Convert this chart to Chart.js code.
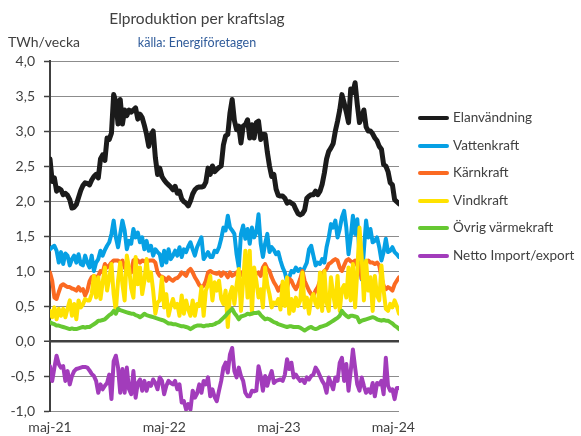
<!DOCTYPE html>
<html>
<head>
<meta charset="utf-8">
<script src="https://cdn.jsdelivr.net/npm/chart.js@4.4.1/dist/chart.umd.min.js"></script>
<style>
  html, body { margin: 0; padding: 0; background: #fff; }
  #wrap { position: relative; width: 581px; height: 436px; font-family: Lato, "Open Sans", sans-serif; color: #404040; }
  #wrap canvas { position: absolute; left: 0; top: 0; }
  .txt { position: absolute; white-space: nowrap; }
  #title { left: 0; width: 394px; top: 9px; text-align: center; font-size: 15.5px; }
  #source { left: 0; width: 394px; top: 35px; text-align: center; font-size: 12.5px; color: #2f5b9a; }
  #unit { left: 8px; top: 33px; font-size: 14px; }
  .leg { position: absolute; left: 418px; height: 20px; }
  .leg i { position: absolute; left: 0; top: 8px; width: 31px; height: 4px; border-radius: 2px; }
  .leg span { position: absolute; left: 35px; top: 1px; font-size: 13.5px; white-space: nowrap; }
</style>
</head>
<body>
<div id="wrap">
  <canvas id="chart" width="581" height="436"></canvas>
  <div class="txt" id="title">Elproduktion per kraftslag</div>
  <div class="txt" id="source">källa: Energiföretagen</div>
  <div class="txt" id="unit">TWh/vecka</div>
  <div id="legend"></div>
</div>
<script>
// ── DATA (TWh per week, weeks counted from early May 2021) ─────
const seriesNames = ['Elanvändning', 'Vattenkraft', 'Kärnkraft', 'Vindkraft', 'Övrig värmekraft', 'Netto Import/export'];
const seriesColors = ['#1b1b1b', '#06a0e4', '#fb6a22', '#ffe200', '#66c832', '#a23cbb'];

const tickLabels = ['maj-21', 'maj-22', 'maj-23', 'maj-24'];
const tickWeeks = [0, 52.1, 104.3, 156.4];

const elanvandning = [
  2.6, 2.28, 2.33, 2.14, 2.18, 2.16, 2.09, 2.11, 2.08, 2.02,
  1.90, 1.91, 1.95, 2.05, 2.15, 2.22, 2.26, 2.25, 2.23, 2.30,
  2.35, 2.38, 2.33, 2.6, 2.66, 2.58, 2.9, 2.88, 2.97, 3.52,
  3.42, 3.1, 3.45, 3.1, 3.3, 3.22, 3.3, 3.27, 3.3, 3.33,
  3.17, 3.24, 3.19, 3.08, 2.95, 2.78, 2.95, 3.0, 2.62, 2.38,
  2.47, 2.35, 2.3, 2.26, 2.23, 2.20, 2.16, 2.21, 2.11, 2.14,
  2.03, 1.99, 1.97, 1.93, 2.0, 2.10, 2.16, 2.19, 2.2, 2.2,
  2.21, 2.27, 2.47, 2.38, 2.50, 2.42, 2.45, 2.48, 2.5, 2.8,
  2.93, 2.95, 3.26, 3.45, 3.15, 3.02, 3.07, 2.83, 3.07, 3.09,
  3.16, 2.90, 3.09, 2.90, 3.12, 3.14, 2.88, 2.95, 2.95, 2.7,
  2.50, 2.35, 2.38, 2.17, 2.08, 2.07, 2.07, 2.04, 1.97, 1.99,
  1.97, 1.95, 1.88, 1.82, 1.80, 1.82, 1.87, 2.04, 2.07, 2.09,
  2.09, 2.14, 2.09, 2.14, 2.24, 2.40, 2.6, 2.71, 2.76, 2.82,
  3.0, 3.14, 3.3, 3.52, 3.40, 3.27, 3.12, 3.6, 3.55, 3.69,
  3.38, 3.12, 3.2, 3.3, 3.06, 3.0, 3.0, 2.96, 2.9, 2.86,
  2.78, 2.74, 2.52, 2.50, 2.42, 2.26, 2.23, 2.02, 1.99, 1.96
];

const vattenkraft = [
  1.31, 1.34, 1.36, 1.29, 1.12, 1.27, 1.10, 1.25, 1.22, 1.08,
  1.17, 1.22, 1.12, 1.24, 1.10, 1.08, 1.22, 1.12, 1.05, 1.22,
  1.0, 1.12, 1.17, 1.29, 1.22, 1.3, 1.36, 1.41, 1.53, 1.72,
  1.48, 1.34, 1.53, 1.72, 1.58, 1.31, 1.43, 1.39, 1.60, 1.48,
  1.55, 1.41, 1.48, 1.31, 1.43, 1.29, 1.36, 1.22, 1.31, 1.27,
  1.24, 1.08, 1.29, 1.12, 1.31, 1.17, 1.22, 1.29, 1.22, 1.34,
  1.20, 1.31, 1.27, 1.35, 1.41, 1.31, 1.22, 1.34, 1.41, 1.48,
  1.17, 1.22, 1.27, 1.2, 1.20, 1.29, 1.27, 1.34, 1.46, 1.62,
  1.58, 1.79, 1.62, 1.58, 1.53, 1.24, 1.05, 1.53, 1.65, 1.46,
  1.60, 1.39, 1.62, 1.48, 1.55, 1.81, 1.39, 1.20, 1.39, 1.53,
  1.27, 1.34, 1.30, 1.24, 1.27, 1.15, 1.05, 0.98, 0.85, 0.91,
  1.0, 0.98, 1.05, 1.0, 1.03, 0.98, 1.05, 1.12, 1.31, 1.36,
  1.22, 1.08, 1.12, 1.10, 1.17, 1.12, 1.34, 1.48, 1.67, 1.62,
  1.72, 1.48, 1.60, 1.77, 1.86, 1.62, 1.24, 1.48, 1.79, 1.53,
  1.74, 1.24, 0.88, 1.29, 1.72, 1.48, 1.60, 1.41, 1.43, 1.48,
  1.34, 1.15, 1.27, 1.46, 1.27, 1.29, 1.34, 1.27, 1.24, 1.20
];

const karnkraft = [
  0.98, 0.86, 0.62, 0.6, 0.7, 0.79, 0.81, 0.79, 0.77, 0.77,
  0.75, 0.74, 0.72, 0.77, 0.72, 0.74, 0.65, 0.72, 0.85, 0.91,
  0.93, 0.91, 0.93, 1.0, 0.98, 1.10, 1.05, 1.08, 1.12, 1.15,
  1.15, 1.15, 1.12, 1.15, 1.05, 1.0, 1.05, 0.98, 1.15, 1.17,
  1.15, 1.12, 1.15, 1.14, 1.12, 1.15, 1.15, 1.15, 1.12, 0.98,
  0.93, 0.92, 0.9, 0.86, 0.91, 0.88, 0.86, 0.89, 0.9, 0.93,
  0.98, 0.96, 0.93, 1.0, 1.03, 0.98, 0.91, 0.86, 0.8, 0.77,
  0.79, 0.86, 0.98, 1.0, 0.98, 0.97, 0.96, 0.98, 0.93, 0.98,
  0.96, 0.91, 0.98, 0.93, 0.95, 0.98, 0.96, 0.98, 0.93, 0.96,
  0.93, 0.95, 0.96, 0.98, 0.96, 0.98, 0.93, 1.05, 1.10, 1.03,
  1.0, 0.91, 0.84, 0.79, 0.72, 0.77, 0.81, 0.78, 0.76, 0.89,
  0.86, 0.79, 0.74, 0.8, 0.89, 1.0, 0.86, 0.79, 0.72, 0.67,
  0.65, 0.72, 0.77, 0.86, 0.96, 1.0, 1.03, 1.10, 1.12, 1.15,
  1.17, 1.15, 1.05, 1.0, 1.08, 1.15, 1.17, 1.14, 1.12, 1.15,
  1.08, 1.10, 0.89, 1.0, 1.12, 1.15, 1.12, 1.12, 1.10, 1.12,
  1.08, 0.91, 0.79, 0.74, 0.77, 0.75, 0.72, 0.81, 0.86, 0.91
];

const vindkraft = [
  0.43, 0.34, 0.48, 0.31, 0.46, 0.36, 0.46, 0.34, 0.46, 0.58,
  0.36, 0.53, 0.31, 0.58, 0.48, 0.52, 0.60, 0.58, 0.58, 0.67,
  0.93, 0.62, 0.91, 0.60, 0.84, 1.05, 0.72, 0.9, 1.10, 0.67,
  0.43, 0.86, 1.12, 0.81, 0.58, 1.22, 1.05, 0.75, 0.62, 1.20,
  0.81, 1.05, 0.67, 0.86, 1.17, 0.86, 0.98, 0.72, 0.39, 0.55,
  0.58, 0.91, 0.48, 0.67, 0.36, 0.5, 0.60, 0.48, 0.53, 0.36,
  0.65, 0.39, 0.58, 0.45, 0.36, 0.58, 0.36, 0.53, 0.50, 0.77,
  0.36, 0.72, 0.8, 0.93, 0.58, 0.84, 0.72, 0.86, 0.6, 0.53,
  0.72, 0.20, 0.67, 0.77, 0.53, 0.8, 1.03, 0.43, 0.86, 1.29,
  0.62, 1.29, 0.39, 1.05, 0.86, 0.62, 0.74, 0.48, 1.05, 0.8,
  0.67, 0.48, 0.55, 0.53, 0.6, 0.45, 0.85, 0.5, 0.91, 0.39,
  0.60, 0.43, 0.62, 0.5, 0.58, 0.98, 0.48, 0.62, 0.39, 0.6,
  0.67, 0.53, 0.48, 0.98, 0.43, 1.0, 0.55, 0.43, 0.91, 0.67,
  0.48, 0.93, 0.43, 0.74, 0.8, 0.62, 1.05, 0.58, 1.10, 0.48,
  1.0, 1.62, 1.20, 0.58, 1.15, 0.72, 0.91, 0.43, 0.93, 0.65,
  0.58, 1.08, 0.72, 0.46, 0.43, 0.53, 0.48, 0.58, 0.5, 0.39
];

const ovrigVarmekraft = [
  0.27, 0.25, 0.24, 0.22, 0.22, 0.21, 0.20, 0.19, 0.18, 0.17,
  0.18, 0.17, 0.17, 0.18, 0.19, 0.20, 0.19, 0.20, 0.20, 0.22,
  0.24, 0.26, 0.29, 0.29, 0.30, 0.31, 0.34, 0.37, 0.39, 0.43,
  0.39, 0.46, 0.44, 0.43, 0.42, 0.41, 0.40, 0.39, 0.39, 0.37,
  0.36, 0.34, 0.36, 0.39, 0.37, 0.36, 0.35, 0.34, 0.33, 0.32,
  0.31, 0.30, 0.29, 0.27, 0.25, 0.25, 0.24, 0.24, 0.23, 0.22,
  0.21, 0.21, 0.20, 0.19, 0.17, 0.19, 0.21, 0.22, 0.22, 0.22,
  0.21, 0.22, 0.22, 0.23, 0.23, 0.24, 0.26, 0.27, 0.30, 0.33,
  0.36, 0.40, 0.43, 0.46, 0.40, 0.36, 0.31, 0.35, 0.36, 0.37,
  0.39, 0.38, 0.39, 0.40, 0.40, 0.41, 0.37, 0.34, 0.31, 0.32,
  0.31, 0.29, 0.27, 0.26, 0.24, 0.23, 0.22, 0.21, 0.20, 0.21,
  0.21, 0.20, 0.20, 0.20, 0.19, 0.17, 0.15, 0.17, 0.19, 0.20,
  0.18, 0.17, 0.18, 0.20, 0.21, 0.22, 0.23, 0.25, 0.27, 0.29,
  0.31, 0.33, 0.36, 0.43, 0.39, 0.36, 0.34, 0.36, 0.36, 0.35,
  0.34, 0.27, 0.29, 0.30, 0.31, 0.32, 0.33, 0.34, 0.33, 0.31,
  0.30, 0.29, 0.30, 0.29, 0.29, 0.27, 0.25, 0.22, 0.20, 0.17
];

const nettoImportExport = [
  -0.36, -0.57, -0.38, -0.21, -0.33, -0.38, -0.36, -0.57, -0.43, -0.62,
  -0.5, -0.43, -0.40, -0.39, -0.38, -0.37, -0.37, -0.38, -0.42, -0.47,
  -0.5, -0.57, -0.74, -0.62, -0.69, -0.64, -0.6, -0.48, -0.83, -0.29,
  -0.21, -0.38, -0.74, -0.40, -0.74, -0.38, -0.69, -0.76, -0.43, -0.81,
  -0.6, -0.55, -0.71, -0.57, -0.71, -0.6, -0.64, -0.55, -0.6, -0.69,
  -0.52, -0.57, -0.76, -0.64, -0.57, -0.6, -0.62, -0.57, -0.69, -0.62,
  -0.88, -0.86, -0.98, -0.9, -0.98, -0.71, -0.81, -0.75, -0.62, -0.74,
  -0.57, -0.62, -0.52, -0.79, -0.69, -0.8, -0.86, -0.71, -0.57, -0.38,
  -0.31, -0.45, -0.19, -0.10, -0.43, -0.52, -0.38, -0.5, -0.57, -0.74,
  -0.79, -0.79, -0.71, -0.72, -0.71, -0.36, -0.5, -0.71, -0.5, -0.64,
  -0.52, -0.43, -0.6, -0.57, -0.56, -0.55, -0.57, -0.48, -0.26, -0.40,
  -0.31, -0.52, -0.48, -0.53, -0.57, -0.55, -0.6, -0.52, -0.55, -0.5,
  -0.48, -0.38, -0.43, -0.5, -0.57, -0.62, -0.74, -0.52, -0.6, -0.69,
  -0.52, -0.57, -0.31, -0.24, -0.57, -0.33, -0.71, -0.43, -0.12, -0.38,
  -0.62, -0.71, -0.52, -0.64, -0.74, -0.69, -0.74, -0.6, -0.79, -0.6,
  -0.62, -0.57, -0.76, -0.24, -0.64, -0.71, -0.69, -0.83, -0.67, -0.67
];

const seriesValues = [elanvandning, vattenkraft, karnkraft, vindkraft, ovrigVarmekraft, nettoImportExport];

// ── CHART ──────────────────────────────────────────────────────
const GRID = '#8c8c8c';
const AXIS = '#404040';
const FONT = 'Lato, "Open Sans", sans-serif';

const datasets = seriesValues.map((vals, i) => ({
  label: seriesNames[i],
  data: vals.map((v, w) => ({ x: w, y: v })),
  borderColor: seriesColors[i],
  backgroundColor: seriesColors[i],
  borderWidth: i === 0 ? 5 : 4,
  pointRadius: 0,
  tension: 0,
  borderJoinStyle: 'round',
  borderCapStyle: 'round',
  order: seriesNames.length - i   // later series on top, like the original
}));

new Chart(document.getElementById('chart'), {
  type: 'line',
  data: { datasets },
  options: {
    responsive: false,
    animation: false,
    events: [],
    layout: { padding: { top: 61, right: 182, left: 0, bottom: 0 } },
    plugins: { legend: { display: false }, tooltip: { enabled: false } },
    scales: {
      x: {
        type: 'linear',
        min: 0,
        max: 159,
        afterFit: s => { s.height = 25; },
        afterBuildTicks: s => { s.ticks = tickWeeks.map(v => ({ value: v })); },
        grid: { display: false },
        border: { display: false },
        ticks: {
          autoSkip: false,
          maxRotation: 0,
          padding: 0,
          color: AXIS,
          font: { family: FONT, size: 14 },
          callback: (v, i) => tickLabels[i]
        }
      },
      y: {
        min: -1,
        max: 4,
        afterFit: s => { s.width = 50; },
        ticks: {
          stepSize: 0.5,
          padding: 9,
          color: AXIS,
          font: { family: FONT, size: 14 },
          callback: v => v.toFixed(1).replace('.', ',')
        },
        grid: {
          color: c => (c.tick && c.tick.value === 0 ? AXIS : GRID),
          lineWidth: c => (c.tick && c.tick.value === 0 ? 2.5 : 1),
          tickColor: AXIS,
          tickWidth: 1.5,
          tickLength: 6
        },
        border: { color: AXIS, width: 2 }
      }
    }
  }
});

// legend, same order as the series
const legendEl = document.getElementById('legend');
seriesNames.forEach((name, i) => {
  const row = document.createElement('div');
  row.className = 'leg';
  row.style.top = (108 + i * 27.6) + 'px';
  row.innerHTML = '<i style="background:' + seriesColors[i] + '"></i><span>' + name + '</span>';
  legendEl.appendChild(row);
});
</script>
</body>
</html>
